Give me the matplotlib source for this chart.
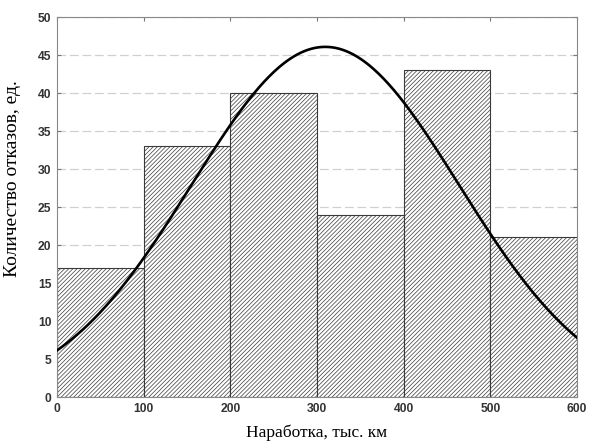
import numpy as np
import matplotlib.pyplot as plt

# histogram of failures by mileage
bin_edges = [0, 100, 200, 300, 400, 500, 600]
counts = [17, 33, 40, 24, 43, 21]

plt.rcParams['hatch.color'] = '#7a7a7a'
plt.rcParams['hatch.linewidth'] = 0.5

fig = plt.figure(figsize=(5.9, 4.43), dpi=100)
ax = fig.add_axes([0.0966, 0.1038, 0.8814, 0.8578])

edges = np.array(bin_edges, dtype=float)
cnt = np.array(counts, dtype=float)
widths = np.diff(edges)
mids = edges[:-1] + widths / 2

ax.bar(edges[:-1], cnt, width=widths, align='edge', color='white',
       edgecolor='#3a3a3a', linewidth=0.8, hatch='////////', zorder=2)

# fitted normal curve from the binned data
n = cnt.sum()
mu = (mids * cnt).sum() / n
sd = np.sqrt(((mids - mu) ** 2 * cnt).sum() / n)
xs = np.linspace(0, 600, 300)
ys = n * widths[0] * np.exp(-0.5 * ((xs - mu) / sd) ** 2) / (sd * np.sqrt(2 * np.pi))
ax.plot(xs, ys, color='black', linewidth=1.9, zorder=3)

ax.set_xlim(0, 600)
ax.set_ylim(0, 50)
ax.set_xticks(range(0, 601, 100))
ax.set_yticks(range(0, 51, 5))
ax.yaxis.grid(True, linestyle=(0, (7, 3)), color='#d0d0d0', linewidth=0.9, zorder=0)
ax.set_axisbelow(True)

ax.tick_params(direction='in', top=True, right=True, length=3, color='#777777',
               labelsize=8.7, pad=4)
for lab in ax.get_xticklabels() + ax.get_yticklabels():
    lab.set_family('Liberation Sans')
    lab.set_fontweight('bold')
    lab.set_color('#333333')
for s in ax.spines.values():
    s.set_color('#888888')
    s.set_linewidth(0.8)

ax.set_xlabel('Наработка, тыс. км', family='Liberation Serif', fontsize=12.5, labelpad=7)
ax.set_ylabel('Количество отказов, ед.', family='Liberation Serif', fontsize=14)
ax.yaxis.set_label_coords(-0.07, 0.574)

plt.savefig('out.png', dpi=100)
